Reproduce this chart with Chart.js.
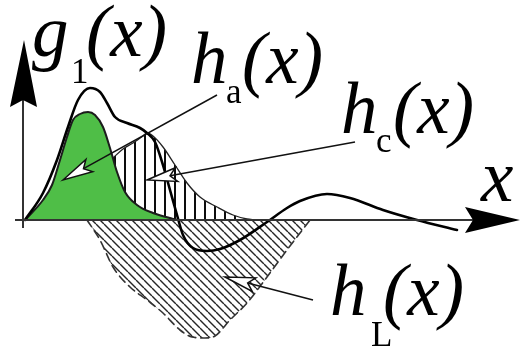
<!DOCTYPE html>
<html>
<head>
<meta charset="utf-8">
<script src="https://cdn.jsdelivr.net/npm/chart.js@4.4.1/dist/chart.umd.min.js"></script>
<style>
  html, body { margin: 0; padding: 0; background: #fff; }
  #wrap { width: 523px; height: 349px; }
</style>
</head>
<body>
<div id="wrap"><canvas id="chart"></canvas></div>
<script>
// g1(x) - суммарная кривая
const g1X = [0.4, 4.0, 6.8, 9.0, 11.0, 13.4, 15.4, 16.8, 18.4, 20.8, 23.4, 24.8, 26.4, 28.0, 29.4,
             30.8, 32.0, 34.0, 36.8, 39.4, 43.4, 48.8, 52.8, 55.4, 60.8, 65.4, 72.0, 78.8, 86.8];
const g1Y = [0, 5.4, 12.0, 18.6, 24.0, 26.4, 25.6, 23.4, 20.6, 19.4, 18.4, 17.4, 15.6, 11.0, 6.0,
             1.0, -3.0, -5.6, -6.2, -5.8, -4.0, -0.4, 2.4, 3.8, 5.2, 4.4, 2.0, 0, -2.0];

// ha(x) - зелёная область
const haX = [0.4, 4.0, 5.8, 7.4, 8.8, 10.0, 11.4, 13.0, 14.4, 16.0, 17.4, 18.8, 20.4, 22.8, 26.0, 29.4, 31.4, 47.0];
const haY = [0, 4.0, 7.0, 12.0, 16.6, 20.0, 21.2, 21.6, 21.0, 18.6, 14.4, 9.6, 5.6, 3.0, 1.4, 0.4, 0, 0];

// верхняя граница ha + hc (вертикальная штриховка)
const hcTopX = [18.0, 20.0, 22.0, 24.0, 24.8, 26.0, 28.0, 30.4, 32.8, 35.4, 38.8, 42.0, 44.8, 46.4];
const hcTopY = [12.4, 14.2, 15.4, 16.8, 17.4, 16.8, 14.6, 11.0, 7.4, 4.6, 2.6, 1.0, 0.2, 0];

// hL(x) - отрицательная часть (штрихпунктир, косая штриховка)
const hLX = [12.8, 15.4, 18.0, 21.4, 24.8, 28.0, 31.4, 33.8, 36.4, 38.4, 41.4, 44.8, 48.8, 52.8, 57.4];
const hLY = [0, -4.0, -9.4, -13.4, -16.0, -18.6, -22.0, -23.4, -23.6, -23.2, -20.0, -16.6, -11.4, -6.0, 0];

// подписи кривых: основа, индекс, аргумент (в единицах осей)
const curveLabels = [
    { main: 'g', sub: '1', mainAt: [1.8, 32.8],  subAt: [9.6, 27.4],   argAt: [12.6, 32.8] },
    { main: 'h', sub: 'a', mainAt: [33.6, 27.4], subAt: [40.6, 23.4],  argAt: [43.8, 27.4] },
    { main: 'h', sub: 'c', mainAt: [63.6, 17.4], subAt: [70.6, 13.6],  argAt: [74.0, 17.4] },
    { main: 'h', sub: 'L', mainAt: [61.4, -19.0], subAt: [69.6, -25.2], argAt: [72.0, -19.0] }
];

// выноски: от подписи к области
const leaders = [
    { from: [38.8, 25.0], to: [8.0, 8.0] },
    { from: [66.4, 15.6], to: [24.8, 8.0] },
    { from: [58.0, -16.0], to: [40.4, -11.4] }
];

const toPoints = (xs, ys) => xs.map((x, i) => ({ x: x, y: ys[i] }));

const canvas = document.getElementById('chart');
const ctx0 = canvas.getContext('2d');

// штриховка через CanvasPattern
function makeHatch(kind) {
    const tile = document.createElement('canvas');
    const s = kind === 'vertical' ? 10 : 8;
    tile.width = s;
    tile.height = s;
    const g = tile.getContext('2d');
    g.beginPath();
    if (kind === 'vertical') {
        g.strokeStyle = '#0d0d0d';
        g.lineWidth = 2;
        g.moveTo(5, 0);
        g.lineTo(5, s);
    } else {
        g.strokeStyle = '#262626';
        g.lineWidth = 1.4;
        for (let a = -s; a <= s; a += s) {
            g.moveTo(a, 0);
            g.lineTo(a + s, s);
        }
    }
    g.stroke();
    return ctx0.createPattern(tile, 'repeat');
}

const FONT = '"Liberation Serif", serif';

function drawLeader(ctx, x0, y0, x1, y1) {
    const ang = Math.atan2(y1 - y0, x1 - x0);
    const c = Math.cos(ang), s = Math.sin(ang);
    const len = 30, half = 7;
    const bx = x1 - len * c, by = y1 - len * s;
    const nx = x1 - len * 0.78 * c, ny = y1 - len * 0.78 * s;
    ctx.strokeStyle = '#111';
    ctx.lineWidth = 1.5;
    ctx.beginPath();
    ctx.moveTo(x0, y0);
    ctx.lineTo(nx, ny);
    ctx.stroke();
    ctx.beginPath();
    ctx.moveTo(x1, y1);
    ctx.lineTo(bx - half * s, by + half * c);
    ctx.lineTo(nx, ny);
    ctx.lineTo(bx + half * s, by - half * c);
    ctx.closePath();
    ctx.fillStyle = '#fff';
    ctx.fill();
    ctx.stroke();
}

const sketchPlugin = {
    id: 'sketch',
    afterDatasetsDraw(chart) {
        const ctx = chart.ctx;
        const px = v => chart.scales.x.getPixelForValue(v);
        const py = v => chart.scales.y.getPixelForValue(v);
        ctx.save();

        // ось x со стрелкой
        const y0 = py(0);
        ctx.strokeStyle = '#333';
        ctx.lineWidth = 2;
        ctx.beginPath();
        ctx.moveTo(px(-1.6), y0);
        ctx.lineTo(px(90), y0);
        ctx.stroke();
        ctx.fillStyle = '#000';
        ctx.beginPath();
        ctx.moveTo(px(99.4), y0);
        ctx.lineTo(px(88.4), y0 - 13);
        ctx.lineTo(px(90.0), y0);
        ctx.lineTo(px(88.4), y0 + 13);
        ctx.closePath();
        ctx.fill();

        // ось y со стрелкой
        const x0 = px(0);
        ctx.beginPath();
        ctx.moveTo(x0, py(-1.6));
        ctx.lineTo(x0, py(24));
        ctx.stroke();
        ctx.beginPath();
        ctx.moveTo(x0 + 1, py(36));
        ctx.lineTo(x0 - 13, py(22.6));
        ctx.lineTo(x0, py(24));
        ctx.lineTo(x0 + 14, py(22.6));
        ctx.closePath();
        ctx.fill();

        // выноски
        leaders.forEach(l => drawLeader(ctx, px(l.from[0]), py(l.from[1]), px(l.to[0]), py(l.to[1])));

        // подписи
        ctx.fillStyle = '#000';
        ctx.textBaseline = 'alphabetic';
        ctx.textAlign = 'left';
        curveLabels.forEach(lb => {
            ctx.font = 'italic 73px ' + FONT;
            ctx.fillText(lb.main, px(lb.mainAt[0]), py(lb.mainAt[1]));
            ctx.fillText('(x)', px(lb.argAt[0]), py(lb.argAt[1]));
            ctx.font = '35px ' + FONT;
            ctx.fillText(lb.sub, px(lb.subAt[0]), py(lb.subAt[1]));
        });
        ctx.font = 'italic 73px ' + FONT;
        ctx.fillText('x', px(91.6), py(3.8));

        ctx.restore();
    }
};

const chartData = {
    datasets: [
        {
            // g1(x)
            data: toPoints(g1X, g1Y),
            borderColor: '#000',
            borderWidth: 2.6,
            fill: false
        },
        {
            // ha(x)
            data: toPoints(haX, haY),
            borderColor: '#1c1c1c',
            borderWidth: 2,
            backgroundColor: '#4fbe47',
            fill: 'origin'
        },
        {
            // hc(x) между ha и ha + hc
            data: toPoints(hcTopX, hcTopY),
            borderColor: '#222',
            borderWidth: 1.3,
            backgroundColor: makeHatch('vertical'),
            fill: 1
        },
        {
            // hL(x)
            data: toPoints(hLX, hLY),
            borderColor: '#333',
            borderWidth: 1.6,
            borderDash: [8, 5],
            backgroundColor: makeHatch('diagonal'),
            fill: 'origin'
        }
    ]
};

const chartConfig = {
    type: 'line',
    data: chartData,
    options: {
        responsive: true,
        maintainAspectRatio: false,
        animation: false,
        layout: { padding: 0 },
        elements: {
            point: { radius: 0 },
            line: { cubicInterpolationMode: 'monotone', borderCapStyle: 'round', borderJoinStyle: 'round' }
        },
        plugins: {
            legend: { display: false },
            tooltip: { enabled: false }
        },
        scales: {
            x: { type: 'linear', min: -4.6, max: 100, display: false },
            y: { min: -25.8, max: 44, display: false }
        }
    },
    plugins: [sketchPlugin]
};

new Chart(ctx0, chartConfig);
</script>
</body>
</html>
